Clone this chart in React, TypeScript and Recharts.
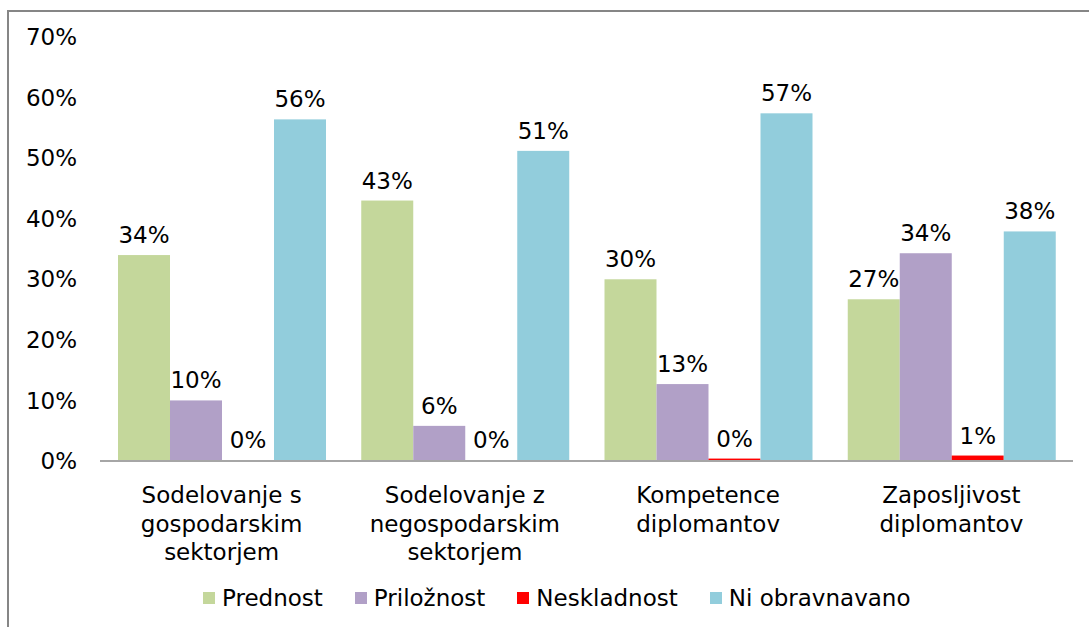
import React from "react";
import { BarChart, Bar, XAxis, YAxis, LabelList } from "recharts";

const categories = [
  "Sodelovanje s\ngospodarskim\nsektorjem",
  "Sodelovanje z\nnegospodarskim\nsektorjem",
  "Kompetence\ndiplomantov",
  "Zaposljivost\ndiplomantov",
];
const prednost = [34, 43, 30, 26.7];
const priloznost = [10, 5.8, 12.7, 34.3];
const neskladnost = [0, 0, 0.4, 0.9];
const niObravnavano = [56.4, 51.2, 57.4, 37.9];
const yTicks = [0, 10, 20, 30, 40, 50, 60, 70];

const seriesNames = ["Prednost", "Priložnost", "Neskladnost", "Ni obravnavano"];
const seriesKeys = ["prednost", "priloznost", "neskladnost", "ni"];
const colors = ["#C4D79B", "#B1A0C7", "#FF0000", "#92CDDC"];

const data = categories.map((c, i) => ({
  name: c,
  prednost: prednost[i],
  priloznost: priloznost[i],
  neskladnost: neskladnost[i],
  ni: niObravnavano[i],
}));

const FONT = "'DejaVu Sans', Verdana, sans-serif";
const FS = 23;

const CatTick = (props: any) => {
  const { x, y, payload } = props;
  const lines = String(payload.value).split("\n");
  return (
    <text x={x} y={y} textAnchor="middle" fontFamily={FONT} fontSize={FS} fill="#000">
      {lines.map((l, i) => (
        <tspan key={i} x={x} dy={i === 0 ? 34 : 28.5}>
          {l}
        </tspan>
      ))}
    </text>
  );
};

const makeShape = (key: string, color: string) => (p: any) => {
  const v = p?.payload?.[key];
  if (!v || v <= 0) return <g />;
  return <rect x={p.x} y={p.y} width={p.width} height={p.height} fill={color} />;
};

export default function App() {
  return (
    <div
      style={{
        position: "absolute",
        left: 7,
        top: 10,
        width: 1082,
        height: 617,
        borderTop: "2px solid #868686",
        borderLeft: "2px solid #868686",
        background: "#fff",
        fontFamily: FONT,
      }}
    >
      <BarChart
        width={1080}
        height={615}
        data={data}
        margin={{ top: 25, right: 16, left: 0, bottom: 0 }}
        barCategoryGap={18}
        barGap={0}
      >
        <XAxis
          dataKey="name"
          height={166}
          tickLine={false}
          axisLine={{ stroke: "#A6A6A6", strokeWidth: 2 }}
          tick={<CatTick />}
          interval={0}
        />
        <YAxis
          width={91}
          domain={[0, 70]}
          ticks={yTicks}
          axisLine={false}
          tickLine={false}
          tickSize={6}
          tickMargin={17}
          tickFormatter={(v: number) => `${v}%`}
          tick={{ fontFamily: FONT, fontSize: FS, fill: "#000" }}
        />
        {seriesKeys.map((k, i) => (
          <Bar
            key={k}
            dataKey={k}
            name={seriesNames[i]}
            fill={colors[i]}
            isAnimationActive={false}
            minPointSize={1}
            shape={makeShape(k, colors[i])}
          >
            <LabelList
              dataKey={k}
              position="top"
              offset={12}
              formatter={(v: any) => `${Math.round(Number(v))}%`}
              style={{ fontFamily: FONT, fontSize: FS, fill: "#000" }}
            />
          </Bar>
        ))}
      </BarChart>
      <div
        style={{
          position: "absolute",
          left: 194,
          top: 571,
          height: 30,
          display: "flex",
          alignItems: "center",
          fontSize: FS,
          color: "#000",
          whiteSpace: "nowrap",
        }}
      >
        {seriesNames.map((n, i) => (
          <div key={n} style={{ display: "flex", alignItems: "center", marginRight: i < 3 ? 32 : 0 }}>
            <span style={{ width: 12, height: 12, background: colors[i], display: "inline-block", marginRight: 7 }} />
            <span style={{ lineHeight: "30px" }}>{n}</span>
          </div>
        ))}
      </div>
    </div>
  );
}
